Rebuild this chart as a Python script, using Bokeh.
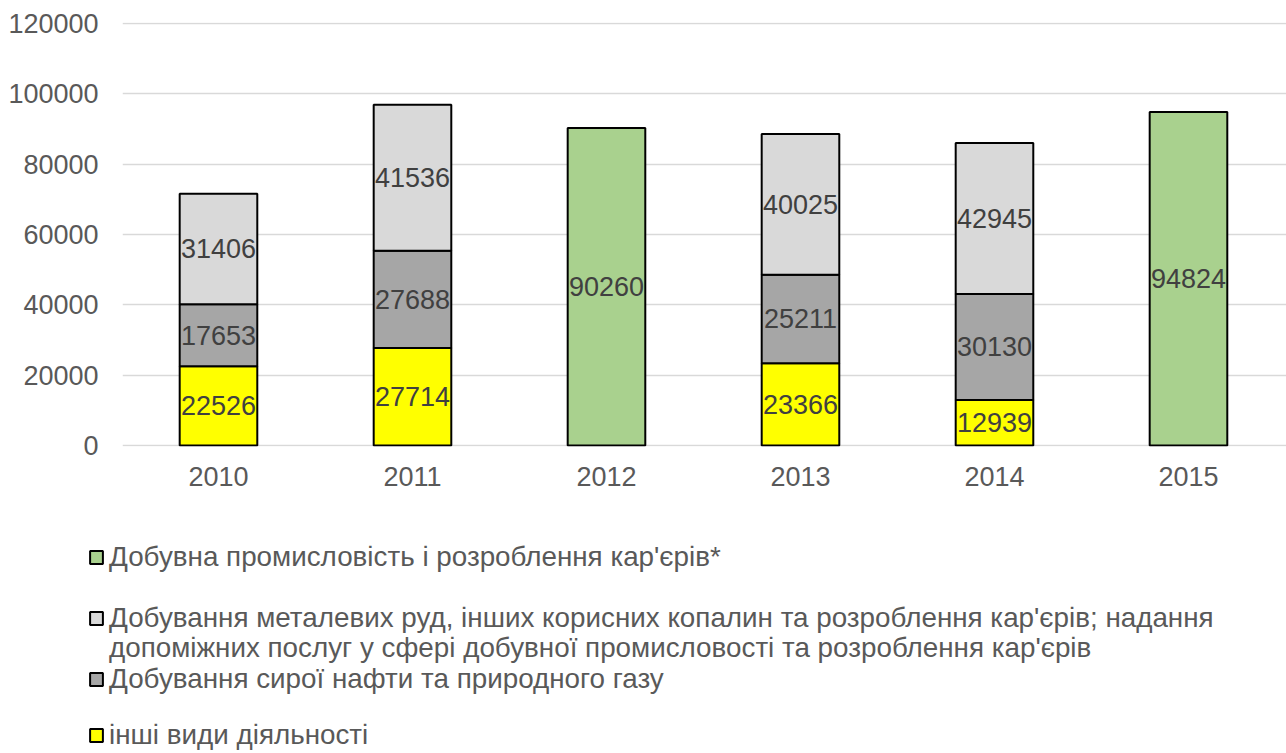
import numpy as np
from bokeh.plotting import figure
from bokeh.layouts import column
from bokeh.models import (ColumnDataSource, Range1d, FixedTicker, Legend, LegendItem,
                          BasicTickFormatter)
from bokeh.core.properties import value
from bokeh.embed import file_html
from bokeh.resources import INLINE

# ---------------- data ----------------
years = ["2010", "2011", "2012", "2013", "2014", "2015"]
stack_years = ["2010", "2011", "2013", "2014"]
total_years = ["2012", "2015"]
total_mining = [90260, 94824]                 # Добувна промисловість і розроблення кар'єрів*
metal_ores = [31406, 41536, 40025, 42945]     # Добування металевих руд ...
oil_gas = [17653, 27688, 25211, 30130]        # Добування сирої нафти та природного газу
other = [22526, 27714, 23366, 12939]          # інші види діяльності
y_ticks = [0, 20000, 40000, 60000, 80000, 100000, 120000]

label_total = "Добувна промисловість і розроблення кар'єрів*"
label_metal_1 = "Добування металевих руд, інших корисних копалин та розроблення кар'єрів; надання"
label_metal_2 = "допоміжних послуг у сфері добувної промисловості та розроблення кар'єрів"
label_oil = "Добування сирої нафти та природного газу"
label_other = "інші види діяльності"

col_total = "#A9D18E"
col_metal = "#D9D9D9"
col_oil = "#A6A6A6"
col_other = "#FFFF00"

FONT = "Liberation Sans"
NUM_SIZE = "27px"
LEG_SIZE = "27.8px"

# ---------------- derived ----------------
xpos = {y: i for i, y in enumerate(years)}
sx = [xpos[y] for y in stack_years]
tx = [xpos[y] for y in total_years]
o = np.array(other, dtype=float)
g = np.array(oil_gas, dtype=float)
m = np.array(metal_ores, dtype=float)

src = ColumnDataSource(dict(
    x=sx,
    b0=np.zeros_like(o), t0=o,
    b1=o, t1=o + g,
    b2=o + g, t2=o + g + m,
))
src_total = ColumnDataSource(dict(x=tx, top=total_mining))

lab_x = sx * 3 + tx
lab_y = list(o / 2) + list(o + g / 2) + list(o + g + m / 2) + [v / 2 for v in total_mining]
lab_t = [str(v) for v in other + oil_gas + metal_ores + total_mining]
src_lab = ColumnDataSource(dict(x=lab_x, y=lab_y, t=lab_t))

# ---------------- main chart ----------------
FIG_W = 1286
H_MAIN = 500
H_LEG = 253
FRAME_TOP, FRAME_BOTTOM = 22, 446

p = figure(width=FIG_W, height=H_MAIN, output_backend="svg", toolbar_location=None,
           x_range=Range1d(-0.4948, 5.5052), y_range=Range1d(-300, 120300),
           min_border_left=122, min_border_right=0, min_border_top=FRAME_TOP,
           min_border_bottom=H_MAIN - FRAME_BOTTOM)
p.outline_line_color = None
p.frame_align = False

W = 0.4
bar_kw = dict(width=W, line_color="black", line_width=2)


def draw_bars(fig, **extra):
    r0 = fig.vbar(x="x", bottom="b0", top="t0", source=src, fill_color=col_other, **bar_kw, **extra)
    r1 = fig.vbar(x="x", bottom="b1", top="t1", source=src, fill_color=col_oil, **bar_kw, **extra)
    r2 = fig.vbar(x="x", bottom="b2", top="t2", source=src, fill_color=col_metal, **bar_kw, **extra)
    r3 = fig.vbar(x="x", bottom=0, top="top", source=src_total, fill_color=col_total, **bar_kw, **extra)
    return r0, r1, r2, r3


draw_bars(p)
p.text(x="x", y="y", text="t", source=src_lab, text_align="center",
       text_baseline="middle", text_font=value(FONT),
       text_font_size=NUM_SIZE, text_color="#404040")

xa = p.xaxis[0]
xa.ticker = FixedTicker(ticks=list(range(len(years))))
xa.major_label_overrides = {i: y for i, y in enumerate(years)}
xa.axis_line_color = None
xa.major_tick_line_color = None
xa.minor_tick_line_color = None
xa.major_tick_out = 0
xa.major_tick_in = 0
xa.major_label_standoff = 20
xa.major_label_text_font = FONT
xa.major_label_text_font_size = NUM_SIZE
xa.major_label_text_color = "#595959"

ya = p.yaxis[0]
ya.ticker = FixedTicker(ticks=y_ticks)
ya.formatter = BasicTickFormatter(use_scientific=False)
ya.axis_line_color = None
ya.major_tick_line_color = None
ya.minor_tick_line_color = None
ya.major_tick_out = 0
ya.major_tick_in = 0
ya.major_label_standoff = 24
ya.major_label_text_font = FONT
ya.major_label_text_font_size = NUM_SIZE
ya.major_label_text_color = "#595959"

p.xgrid.grid_line_color = None
p.ygrid.ticker = FixedTicker(ticks=y_ticks)
p.ygrid.grid_line_color = "#D9D9D9"
p.ygrid.grid_line_width = 1.5

# ---------------- legend panel (hidden copies of the series supply the swatches) ----------------
q = figure(width=FIG_W, height=H_LEG, output_backend="svg", toolbar_location=None,
           x_range=Range1d(0, 1), y_range=Range1d(0, 1),
           x_axis_location=None, y_axis_location=None,
           min_border_left=0, min_border_right=0, min_border_top=0, min_border_bottom=0)
q.outline_line_color = None
q.grid.visible = False
q.frame_align = False
q_other, q_oil, q_metal, q_total = draw_bars(q, visible=False)
q_blank = q.vbar(x="x", bottom="b2", top="t2", source=src, width=W,
                 fill_alpha=0, line_alpha=0, visible=False)

ROW_H = 34
rows = [  # label, renderer, row centre (px from top of whole picture)
    (label_total, q_total, 557),
    (label_metal_1, q_metal, 618),
    (label_metal_2, q_blank, 648),    # continuation line of the previous entry
    (label_oil, q_oil, 679),
    (label_other, q_other, 735),
]
for text, rend, cy in rows:
    leg = Legend(items=[LegendItem(label=text, renderers=[rend])],
                 location=(88, H_MAIN + H_LEG - cy - ROW_H / 2),
                 orientation="vertical", padding=0, margin=0, spacing=0,
                 glyph_width=16, glyph_height=16, label_height=ROW_H,
                 label_standoff=5, label_text_font=FONT,
                 label_text_font_size=LEG_SIZE, label_text_color="#595959",
                 border_line_color=None, background_fill_alpha=0)
    q.add_layout(leg)

layout = column(p, q, spacing=0)
open("out.html", "w").write(file_html(layout, INLINE))
